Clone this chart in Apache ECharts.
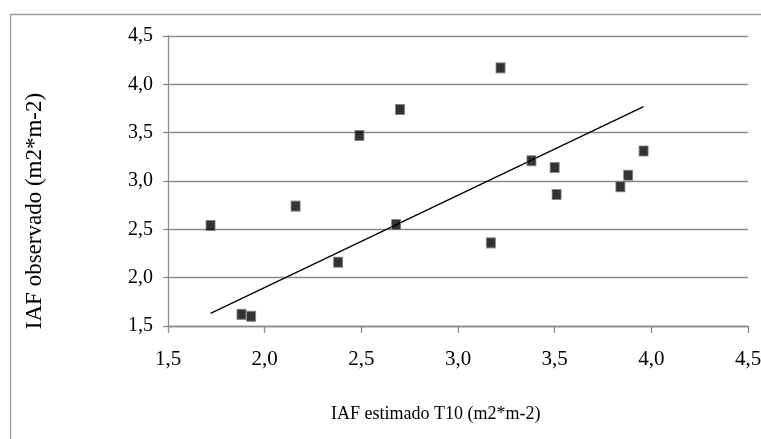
<!DOCTYPE html>
<html>
<head>
<meta charset="utf-8">
<script src="https://cdn.jsdelivr.net/npm/echarts@6/dist/echarts.min.js"></script>
<style>html,body{margin:0;padding:0;background:#fff}#c{width:761px;height:439px}</style>
</head>
<body>
<div id="c"></div>
<script>
var xValues = [1.72, 1.88, 1.93, 2.16, 2.38, 2.49, 2.68, 2.70, 3.17, 3.22, 3.38, 3.50, 3.51, 3.84, 3.88, 3.96];
var yValues = [2.54, 1.62, 1.60, 2.74, 2.16, 3.47, 2.55, 3.74, 2.36, 4.17, 3.21, 3.14, 2.86, 2.94, 3.06, 3.31];
var trendX = [1.72, 3.96];
var trendY = [1.63, 3.77];
var xTitle = 'IAF estimado T10 (m2*m-2)';
var yTitle = 'IAF observado (m2*m-2)';

var points = xValues.map(function (x, i) { return [x, yValues[i]]; });
var trend = trendX.map(function (x, i) { return [x, trendY[i]]; });
var fmt = function (v) { return v.toFixed(1).replace('.', ','); };
var FONT = '"Liberation Serif", "DejaVu Serif", serif';

var chart = echarts.init(document.getElementById('c'), null, {renderer: 'canvas'});
chart.setOption({
  animation: false,
  backgroundColor: '#fff',
  grid: {left: 168, top: 36, width: 580, height: 290, containLabel: false, outerBoundsMode: 'none'},
  xAxis: {
    type: 'value', min: 1.5, max: 4.5, interval: 0.5,
    axisLine: {show: true, onZero: false, lineStyle: {color: '#8a8a8a', width: 1.3}},
    axisTick: {show: true, length: 7, lineStyle: {color: '#8a8a8a', width: 1.3}},
    axisLabel: {formatter: fmt, color: '#000', fontFamily: FONT, fontSize: 21, margin: 23},
    splitLine: {show: false}
  },
  yAxis: {
    type: 'value', min: 1.5, max: 4.5, interval: 0.5,
    axisLine: {show: true, onZero: false, lineStyle: {color: '#8a8a8a', width: 1.3}},
    axisTick: {show: true, length: 5, lineStyle: {color: '#8a8a8a', width: 1.3}},
    axisLabel: {formatter: fmt, color: '#000', fontFamily: FONT, fontSize: 20, margin: 15},
    splitLine: {show: true, lineStyle: {color: '#8a8a8a', width: 1.3}}
  },
  graphic: [
    {type: 'rect', silent: true, z: -10, shape: {x: 10.5, y: 14.5, width: 800, height: 500},
     style: {fill: 'none', stroke: '#9a9a9a', lineWidth: 1.3}},
    {type: 'text', left: 331, top: 405, style: {text: xTitle, font: '18px ' + FONT, fill: '#000'}},
    {type: 'text', x: 35, y: 211, rotation: Math.PI / 2,
     style: {text: yTitle, font: '23px ' + FONT, fill: '#000', align: 'center', verticalAlign: 'middle'}}
  ],
  series: [
    {type: 'scatter', data: points, symbol: 'rect', symbolSize: [9, 10],
     itemStyle: {color: '#000', borderColor: '#808080', borderWidth: 1}, z: 3},
    {type: 'line', data: trend, symbol: 'none', lineStyle: {color: '#000', width: 1.3}, z: 2}
  ]
});
</script>
</body>
</html>
